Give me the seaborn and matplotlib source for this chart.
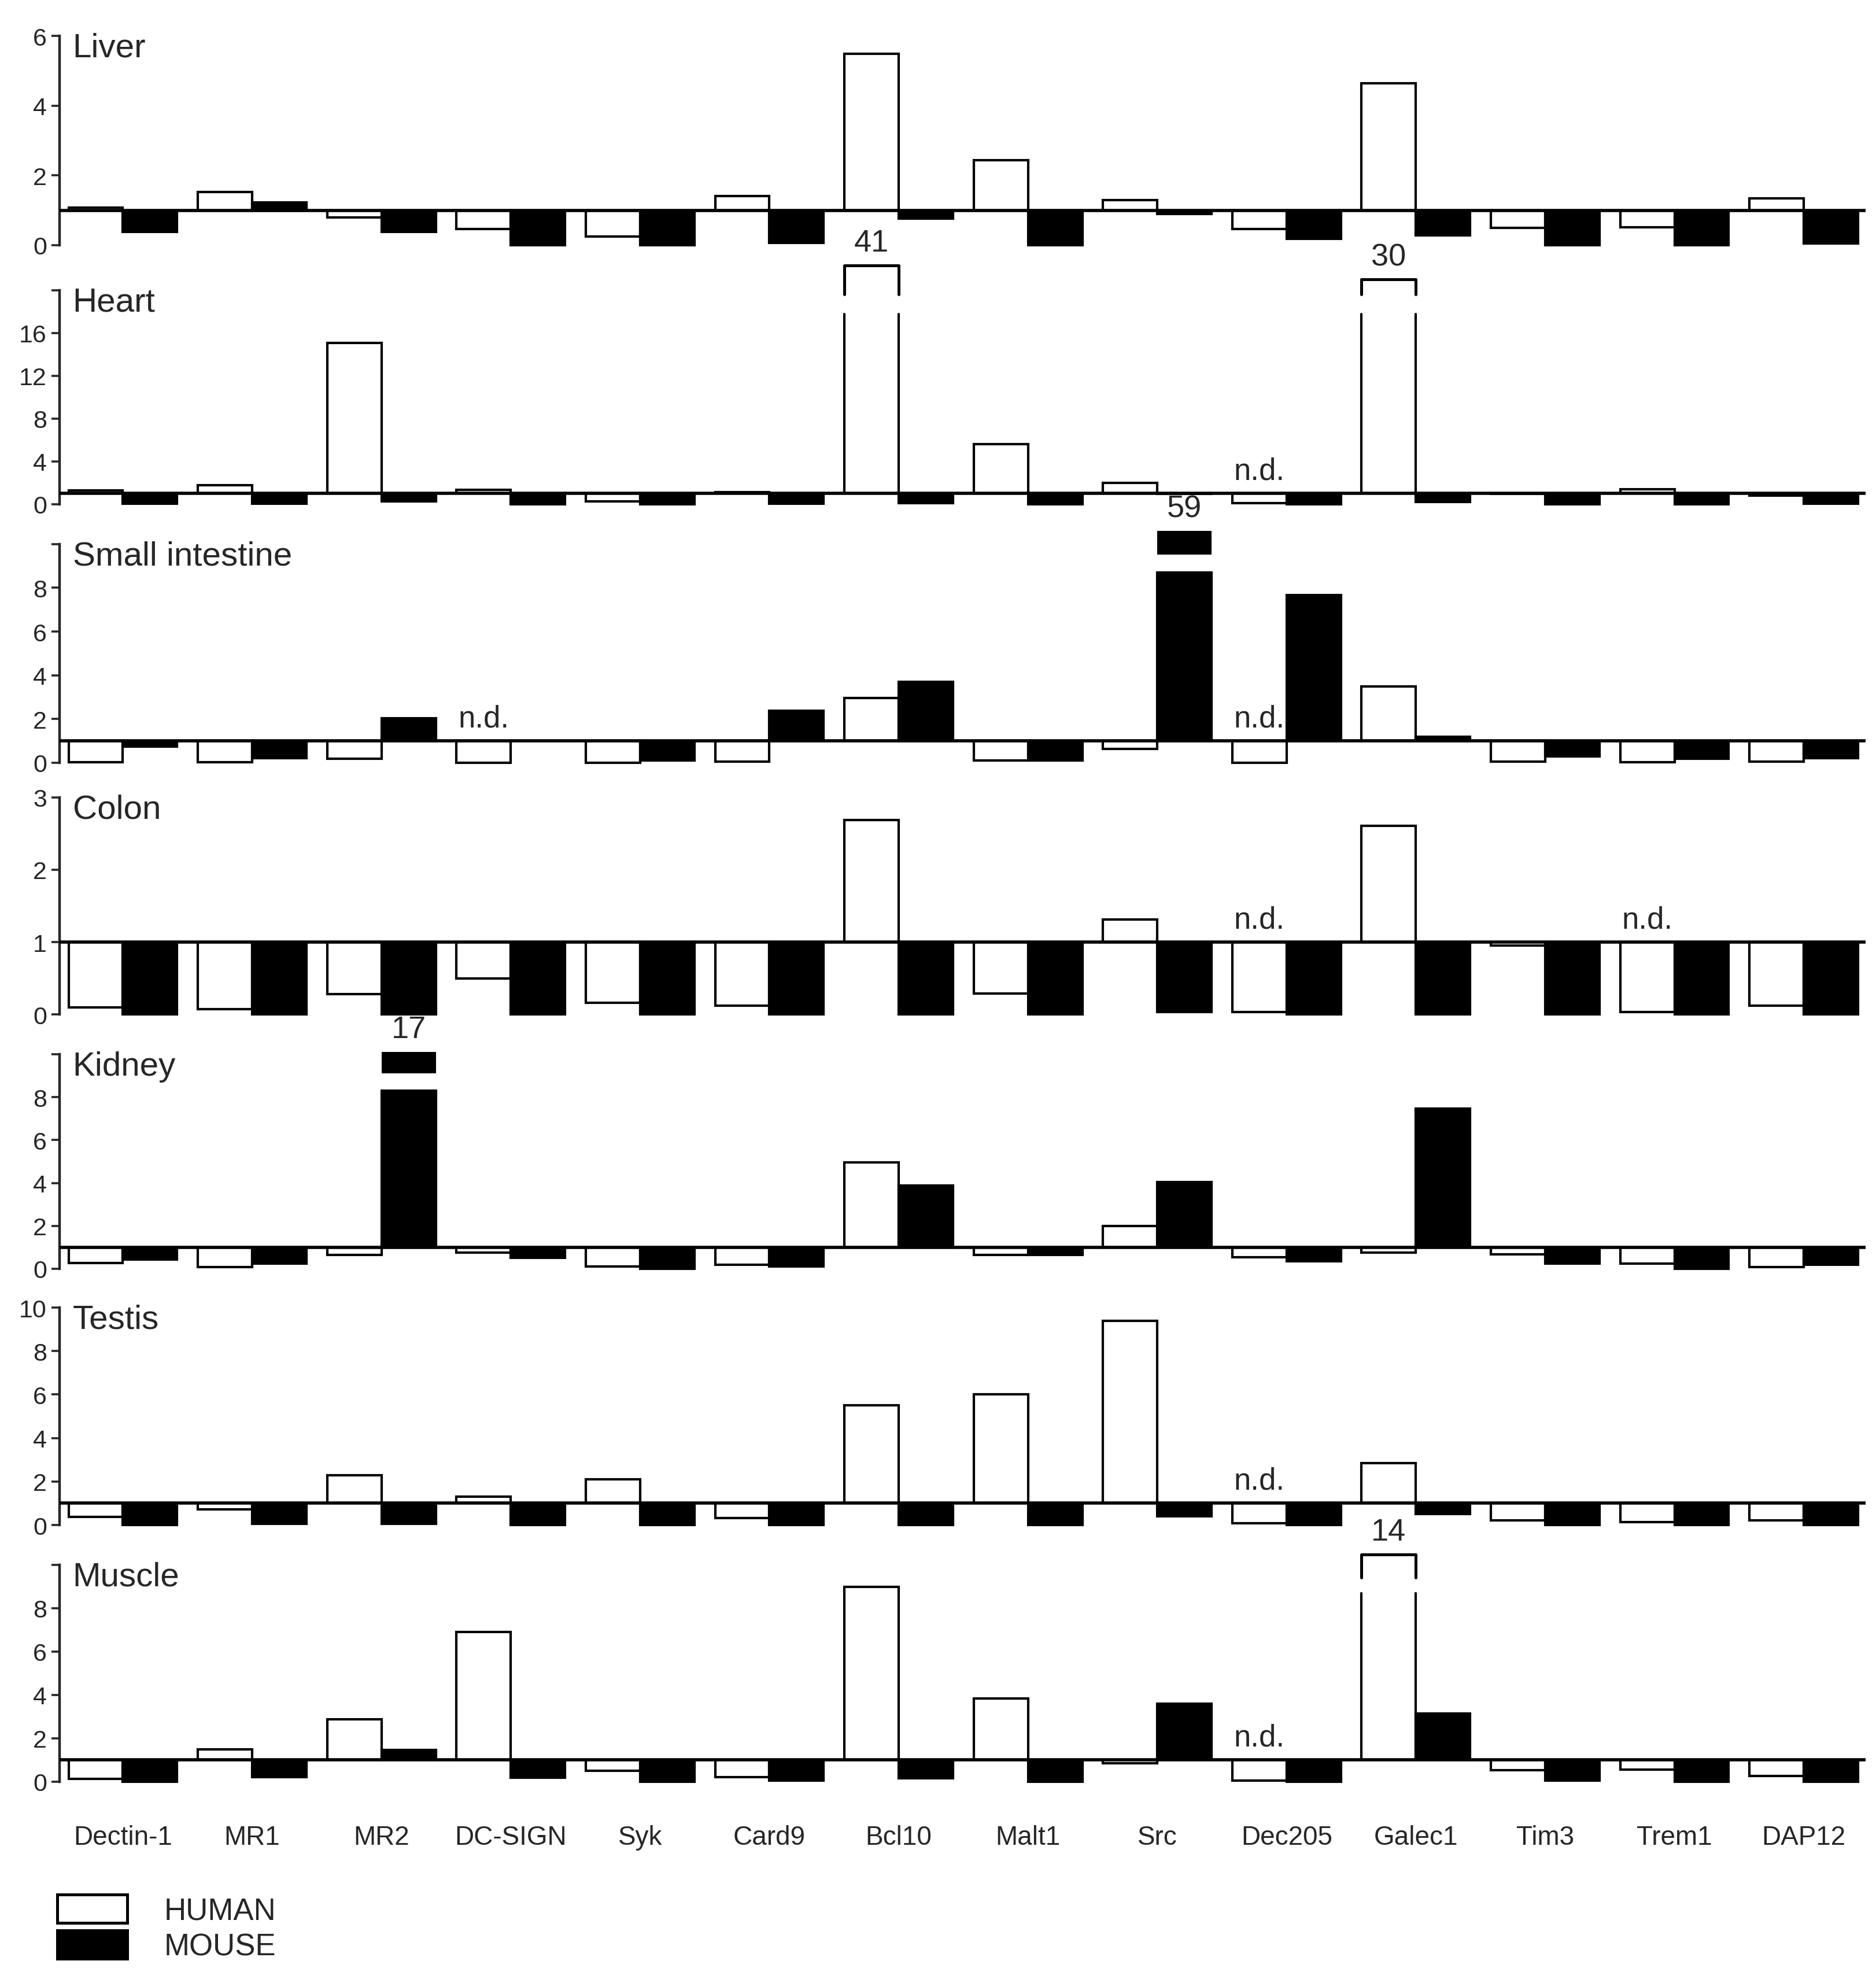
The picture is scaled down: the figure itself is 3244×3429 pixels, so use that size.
# =============================================================================
# 1. Librerías
# =============================================================================
import numpy as np
import pandas as pd
import matplotlib
matplotlib.use('Agg')
import matplotlib.pyplot as plt
from matplotlib.patches import Patch
import seaborn as sns

# =============================================================================
# 2. Datos: expresión relativa por tejido (la línea base es 1)
# =============================================================================
genes = ['Dectin-1', 'MR1', 'MR2', 'DC-SIGN', 'Syk', 'Card9', 'Bcl10',
         'Malt1', 'Src', 'Dec205', 'Galec1', 'Tim3', 'Trem1', 'DAP12']
tejidos = ['Liver', 'Heart', 'Small intestine', 'Colon', 'Kidney', 'Testis', 'Muscle']
especies = ['HUMAN', 'MOUSE']
nd = np.nan

liver_human = [1.08, 1.52, 0.80, 0.47, 0.25, 1.41, 5.48, 2.43, 1.30, 0.47, 4.65, 0.49, 0.51, 1.34]
liver_mouse = [0.38, 1.22, 0.38, 0.0, 0.0, 0.06, 0.77, 0.0, 0.90, 0.19, 0.28, 0.0, 0.0, 0.05]

heart_human = [1.3, 1.8, 15.1, 1.35, 0.25, 1.15, 41, 5.6, 2.0, 0.1, 30, 0.95, 1.4, 0.8]
heart_mouse = [0.05, 0.05, 0.25, 0.0, 0.0, 0.05, 0.1, 0.0, 0.95, 0.0, 0.2, 0.0, 0.0, 0.05]

si_human = [0.02, 0.02, 0.18, 0.0, 0.0, 0.05, 2.96, 0.1, 0.62, 0.0, 3.5, 0.05, 0.02, 0.05]
si_mouse = [0.75, 0.2, 2.03, nd, 0.1, 2.37, 3.69, 0.1, 59, 7.68, 1.2, 0.3, 0.18, 0.2]

colon_human = [0.1, 0.07, 0.28, 0.5, 0.16, 0.12, 2.69, 0.29, 1.31, 0.03, 2.61, 0.95, 0.03, 0.12]
colon_mouse = [0.0, 0.0, 0.0, 0.0, 0.0, 0.0, 0.0, 0.0, 0.03, 0.0, 0.0, 0.0, 0.0, 0.0]

kidney_human = [0.27, 0.09, 0.63, 0.75, 0.1, 0.18, 4.95, 0.63, 1.98, 0.54, 0.75, 0.68, 0.23, 0.09]
kidney_mouse = [0.43, 0.23, 17, 0.5, 0.0, 0.1, 3.87, 0.63, 4.05, 0.36, 7.48, 0.23, 0.0, 0.18]

testis_human = [0.36, 0.71, 2.3, 1.3, 2.1, 0.31, 5.5, 6.0, 9.38, 0.09, 2.85, 0.22, 0.13, 0.22]
testis_mouse = [0.0, 0.06, 0.06, 0.0, 0.0, 0.0, 0.0, 0.0, 0.4, 0.0, 0.5, 0.0, 0.0, 0.0]

muscle_human = [0.13, 1.5, 2.89, 6.9, 0.49, 0.22, 8.98, 3.85, 0.84, 0.04, 14, 0.53, 0.56, 0.27]
muscle_mouse = [0.0, 0.22, 1.47, 0.18, 0.0, 0.06, 0.15, 0.0, 3.6, 0.0, 3.15, 0.04, 0.0, 0.0]

# Genes marcados como no detectados (n.d.) en cada tejido
nd_liver = []
nd_heart = ['Dec205']
nd_si = ['DC-SIGN', 'Dec205']
nd_colon = ['Dec205', 'Trem1']
nd_kidney = []
nd_testis = ['Dec205']
nd_muscle = ['Dec205']

valores = {
    'Liver': (liver_human, liver_mouse, nd_liver),
    'Heart': (heart_human, heart_mouse, nd_heart),
    'Small intestine': (si_human, si_mouse, nd_si),
    'Colon': (colon_human, colon_mouse, nd_colon),
    'Kidney': (kidney_human, kidney_mouse, nd_kidney),
    'Testis': (testis_human, testis_mouse, nd_testis),
    'Muscle': (muscle_human, muscle_mouse, nd_muscle),
}

# =============================================================================
# 3. Estilo y disposición
# =============================================================================
topes = [6, 20, 10, 3, 10, 10, 10]
pasos = [2, 4, 2, 1, 2, 2, 2]
tope_con_etiqueta = [True, False, False, True, False, True, False]

# posición vertical de cada panel (fracción de figura): (base en 0, tope del eje)
limites = [(0.8761, 0.9816), (0.7455, 0.8534), (0.6152, 0.7254), (0.4883, 0.5977),
           (0.3601, 0.4682), (0.2309, 0.3405), (0.1015, 0.2108)]
x_izq, x_ancho = 0.0318, 0.9628

# barras cortadas: (corte, base de la tapa, tope de la tapa) en fracción del tope del eje
cortes = {
    ('Heart', 'Bcl10', 'HUMAN'): (0.89, 0.98, 1.115),
    ('Heart', 'Galec1', 'HUMAN'): (0.89, 0.98, 1.05),
    ('Small intestine', 'Src', 'MOUSE'): (0.87, 0.953, 1.06),
    ('Kidney', 'MR2', 'MOUSE'): (0.83, 0.91, 1.01),
    ('Muscle', 'Galec1', 'HUMAN'): (0.87, 0.94, 1.047),
}

colores = {'HUMAN': 'white', 'MOUSE': 'black'}
lw_barra = 1.5

sns.set_style('ticks')
plt.rcParams['font.family'] = ['Liberation Sans', 'DejaVu Sans']

fig = plt.figure(figsize=(16.22, 17.15), dpi=200)

# =============================================================================
# 4. Paneles
# =============================================================================
for k, tejido in enumerate(tejidos):
    top = topes[k]
    b, t = limites[k]
    h = t - b
    margen = 0.02
    ax = fig.add_axes([x_izq, b - margen * h, x_ancho, h * (1 + margen)])

    humano, raton, no_detectados = valores[tejido]
    filas = []
    for esp, serie in zip(especies, [humano, raton]):
        for g, v in zip(genes, serie):
            if np.isnan(v):
                continue
            corte = cortes.get((tejido, g, esp))
            visible = corte[0] * top if corte else v
            filas.append({'gen': g, 'especie': esp, 'valor': v, 'alto': visible - 1})
    df = pd.DataFrame(filas)

    sns.barplot(data=df, x='gen', y='alto', hue='especie', order=genes,
                hue_order=especies, palette=colores, edgecolor='black',
                linewidth=lw_barra, width=0.84, bottom=1, saturation=1,
                errorbar=None, legend=False, ax=ax)

    # localizar cada barra dibujada por seaborn
    barras = {}
    for p in ax.patches:
        c = p.get_x() + p.get_width() / 2
        i = int(round(c))
        esp = 'HUMAN' if c < i else 'MOUSE'
        barras[(genes[i], esp)] = p

    # barras cortadas con su tapa y el valor real
    for (tj, g, esp), (corte, cb, ct) in cortes.items():
        if tj != tejido:
            continue
        p = barras[(g, esp)]
        x0, x1 = p.get_x(), p.get_x() + p.get_width()
        yb, yc = corte * top, cb * top
        yt = ct * top
        if esp == 'HUMAN':
            p.set_edgecolor('none')
            ax.plot([x0, x0], [1, yb], color='black', lw=lw_barra, zorder=3)
            ax.plot([x1, x1], [1, yb], color='black', lw=lw_barra, zorder=3)
            ax.plot([x0, x0, x1, x1], [yc, yt, yt, yc], color='black',
                    lw=lw_barra * 1.2, clip_on=False, zorder=3)
        else:
            ax.fill_between([x0, x1], yc, yt, color='black', lw=0, clip_on=False)
        valor = df.loc[(df.gen == g) & (df.especie == esp), 'valor'].iloc[0]
        ax.annotate(f'{valor:.0f}', xy=((x0 + x1) / 2, yt), xytext=(0, 5),
                    textcoords='offset points', ha='center', va='bottom',
                    fontsize=19.5, annotation_clip=False)

    # n.d. sobre la barra humana
    for g in no_detectados:
        p = barras.get((g, 'HUMAN'))
        xc = p.get_x() + p.get_width() / 2
        ax.annotate('n.d.', xy=(xc, 1), xytext=(0, 5), textcoords='offset points',
                    ha='center', va='bottom', fontsize=19)

    # línea base en 1
    ax.axhline(1, color='black', lw=2.0, zorder=4)

    ax.set_xlim(-0.489, 13.48)
    ax.set_ylim(-margen * top, top)
    ax.spines[['top', 'right', 'bottom']].set_visible(False)
    ax.spines['left'].set_bounds(0, top)
    ax.spines['left'].set_linewidth(1.6)

    ticks = np.arange(0, top + pasos[k] / 2, pasos[k])
    etiquetas = [f'{v:g}' for v in ticks]
    if not tope_con_etiqueta[k]:
        etiquetas[-1] = ''
    ax.set_yticks(ticks)
    ax.set_yticklabels(etiquetas)
    ax.tick_params(axis='y', direction='out', length=5, width=1.3,
                   labelsize=15.5, pad=3)

    if tejido == tejidos[-1]:
        ax.set_xticks(range(len(genes)))
        ax.set_xticklabels(genes, fontsize=16.5)
        ax.tick_params(axis='x', length=0, pad=24)
    else:
        ax.set_xticks([])
    ax.set_xlabel('')
    ax.set_ylabel('')

    ax.text(0.0072, 1.017, tejido, transform=ax.transAxes, fontsize=21,
            ha='left', va='top')

# =============================================================================
# 5. Leyenda
# =============================================================================
manejadores = [Patch(facecolor=colores[e], edgecolor='black', linewidth=1.8) for e in especies]
fig.legend(manejadores, especies, loc='upper left', bbox_to_anchor=(0.0304, 0.0445),
           frameon=False, fontsize=19, handlelength=2.3, handleheight=1.05,
           handletextpad=1.2, labelspacing=0.15, borderpad=0, borderaxespad=0)

fig.savefig('out.png', dpi=200, facecolor='white')
